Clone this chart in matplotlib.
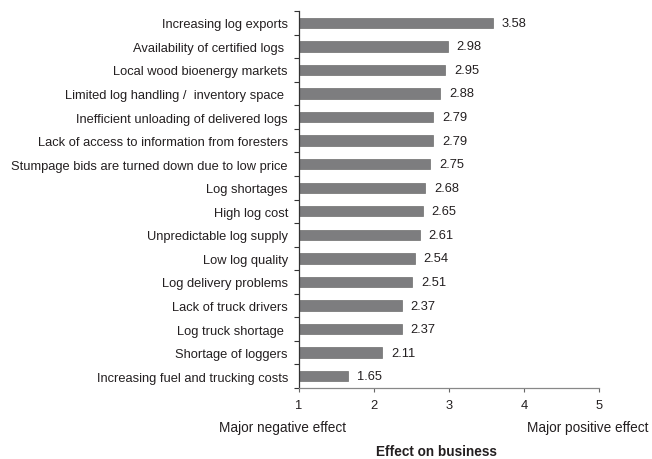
import matplotlib
matplotlib.use("Agg")
import matplotlib.pyplot as plt

categories = [
    "Increasing log exports",
    "Availability of certified logs ",
    "Local wood bioenergy markets",
    "Limited log handling /  inventory space ",
    "Inefficient unloading of delivered logs",
    "Lack of access to information from foresters",
    "Stumpage bids are turned down due to low price",
    "Log shortages",
    "High log cost",
    "Unpredictable log supply",
    "Low log quality",
    "Log delivery problems",
    "Lack of truck drivers",
    "Log truck shortage ",
    "Shortage of loggers",
    "Increasing fuel and trucking costs",
]
values = [3.58, 2.98, 2.95, 2.88, 2.79, 2.79, 2.75, 2.68, 2.65, 2.61, 2.54, 2.51, 2.37, 2.37, 2.11, 1.65]
xticks = [1, 2, 3, 4, 5]

plt.rcParams['font.family'] = ['Liberation Sans', 'DejaVu Sans']
txt = '#231f20'

fig = plt.figure(figsize=(6.52, 4.60), dpi=100)
ax = fig.add_axes([299/652, 1 - 389/460, 300/652, 377/460])

n = len(categories)
pos = list(range(n))
widths = [v - 1 for v in values]
ax.barh(pos, widths, left=1, height=0.44, color='#7d7d7f', edgecolor='#6e6e6e', linewidth=0.5)
for p, v in zip(pos, values):
    ax.text(v + 0.12, p, f"{v:.2f}", va='center', ha='left', fontsize=9.3, color=txt)

ax.set_xlim(1, 5)
ax.set_ylim(n - 0.5, -0.5)
ax.set_xticks(xticks)
ax.set_xticklabels([str(t) for t in xticks], fontsize=9.3, color=txt)
ax.set_yticks(pos)
ax.set_yticklabels(categories, fontsize=9.3, color=txt)
ax.tick_params(axis='y', length=0, pad=8)
ax.set_yticks([i - 0.5 for i in range(n + 1)], minor=True)
ax.tick_params(axis='y', which='minor', length=3.5, width=0.8, color='#333333', direction='out')
ax.tick_params(axis='x', length=3, width=0.8, color='#666666', pad=5)

for s in ['top', 'right']:
    ax.spines[s].set_visible(False)
ax.spines['left'].set_color('#333333')
ax.spines['left'].set_linewidth(0.9)
ax.spines['bottom'].set_color('#888888')
ax.spines['bottom'].set_linewidth(0.9)

fig.text(219/652, 1 - 428/460, "Major negative effect", fontsize=9.8, color=txt, ha='left', va='center')
fig.text(648/652, 1 - 428/460, "Major positive effect", fontsize=9.8, color=txt, ha='right', va='center')
fig.text(436/652, 1 - 452/460, "Effect on business", fontsize=9.8, fontweight='bold', color=txt, ha='center', va='center')

fig.savefig("out.png", dpi=100)
